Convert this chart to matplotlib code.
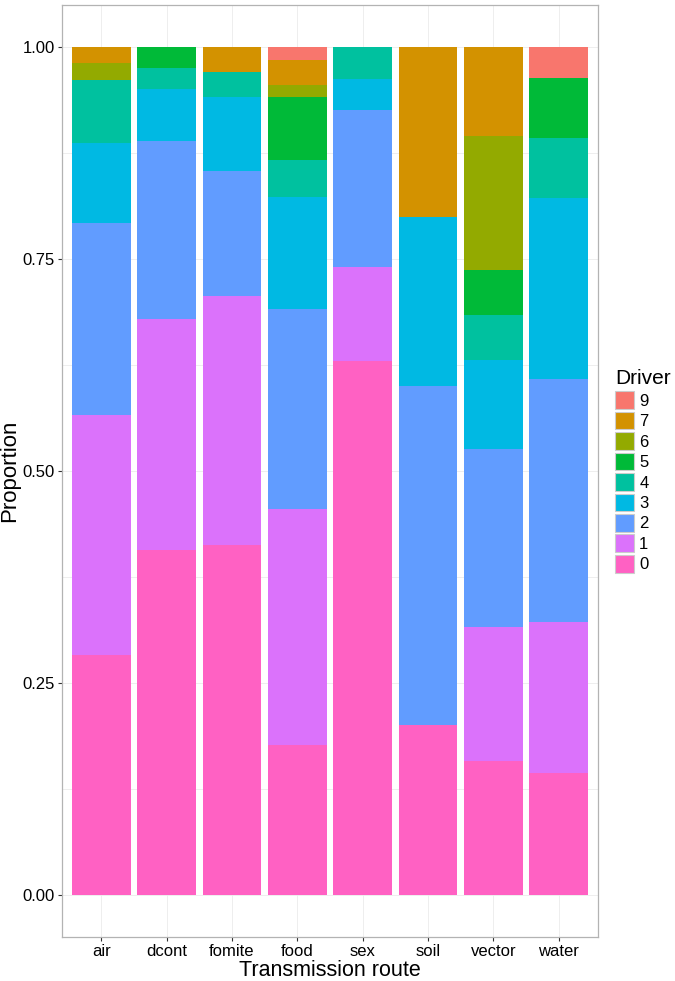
import numpy as np
import matplotlib
matplotlib.use("Agg")
import matplotlib.pyplot as plt
from matplotlib.patches import Patch

plt.rcParams['font.family'] = ['Liberation Sans', 'DejaVu Sans']

routes = ["air", "dcont", "fomite", "food", "sex", "soil", "vector", "water"]

# proportion of each driver within each transmission route
driver_0 = [0.283, 0.407, 0.412, 0.176, 0.630, 0.200, 0.158, 0.143]
driver_1 = [0.283, 0.272, 0.294, 0.279, 0.111, 0.000, 0.158, 0.179]
driver_2 = [0.226, 0.210, 0.147, 0.235, 0.185, 0.400, 0.211, 0.286]
driver_3 = [0.094, 0.062, 0.088, 0.132, 0.037, 0.200, 0.105, 0.214]
driver_4 = [0.075, 0.025, 0.029, 0.044, 0.037, 0.000, 0.053, 0.071]
driver_5 = [0.000, 0.024, 0.000, 0.074, 0.000, 0.000, 0.053, 0.071]
driver_6 = [0.019, 0.000, 0.000, 0.015, 0.000, 0.000, 0.158, 0.000]
driver_7 = [0.019, 0.000, 0.029, 0.029, 0.000, 0.200, 0.105, 0.000]
driver_9 = [0.000, 0.000, 0.000, 0.015, 0.000, 0.000, 0.000, 0.036]

drivers = ["0", "1", "2", "3", "4", "5", "6", "7", "9"]
values = [driver_0, driver_1, driver_2, driver_3, driver_4,
          driver_5, driver_6, driver_7, driver_9]
colors = ["#FF61C3", "#DB72FB", "#619CFF", "#00B9E3", "#00C19F",
          "#00BA38", "#93AA00", "#D39200", "#F8766D"]

fig = plt.figure(figsize=(6.75, 9.81), dpi=100)
ax = fig.add_axes([62 / 675, 44 / 981, 536 / 675, 932 / 981])

x = np.arange(len(routes))
data = np.array(values)
data = data / data.sum(axis=0)  # position = "fill"
bottom = np.zeros(len(routes))
for name, row, col in zip(drivers, data, colors):
    ax.bar(x, row, bottom=bottom, width=0.9, color=col, linewidth=0, zorder=2)
    bottom += row

ax.set_xlim(-0.6, len(routes) - 0.4)
ax.set_ylim(-0.05, 1.05)
ax.set_xticks(x)
ax.set_xticklabels(routes)
ax.set_yticks([0, 0.25, 0.5, 0.75, 1.0])
ax.set_yticklabels(["0.00", "0.25", "0.50", "0.75", "1.00"])
ax.set_yticks([0.125, 0.375, 0.625, 0.875], minor=True)

ax.grid(True, which="both", color="#EBEBEB", linewidth=0.6, zorder=0)
ax.set_axisbelow(True)
for s in ax.spines.values():
    s.set_color("#B3B3B3")
    s.set_linewidth(0.9)
ax.tick_params(axis="both", which="major", length=3, width=0.8, color="#333333",
               labelsize=12, labelcolor="black", pad=2)
ax.tick_params(axis="both", which="minor", length=0)

ax.set_xlabel("Transmission route", fontsize=15.5, va="baseline")
ax.xaxis.set_label_coords(0.5, -0.0418)
ax.set_ylabel("Proportion", fontsize=16)
ax.yaxis.set_label_coords(-0.078, 0.5)

handles = [Patch(facecolor=c, edgecolor="#CCCCCC", linewidth=0.8, label=d)
           for d, c in zip(drivers[::-1], colors[::-1])]
leg = ax.legend(handles=handles, title="Driver", loc="center left",
                bbox_to_anchor=(1.01, 0.5), frameon=False, fontsize=12,
                title_fontsize=15, handlelength=1.15, handleheight=1.25,
                labelspacing=0.17, handletextpad=0.3, borderaxespad=0.3)
leg._legend_box.align = "left"

fig.savefig("out.png", dpi=100)
